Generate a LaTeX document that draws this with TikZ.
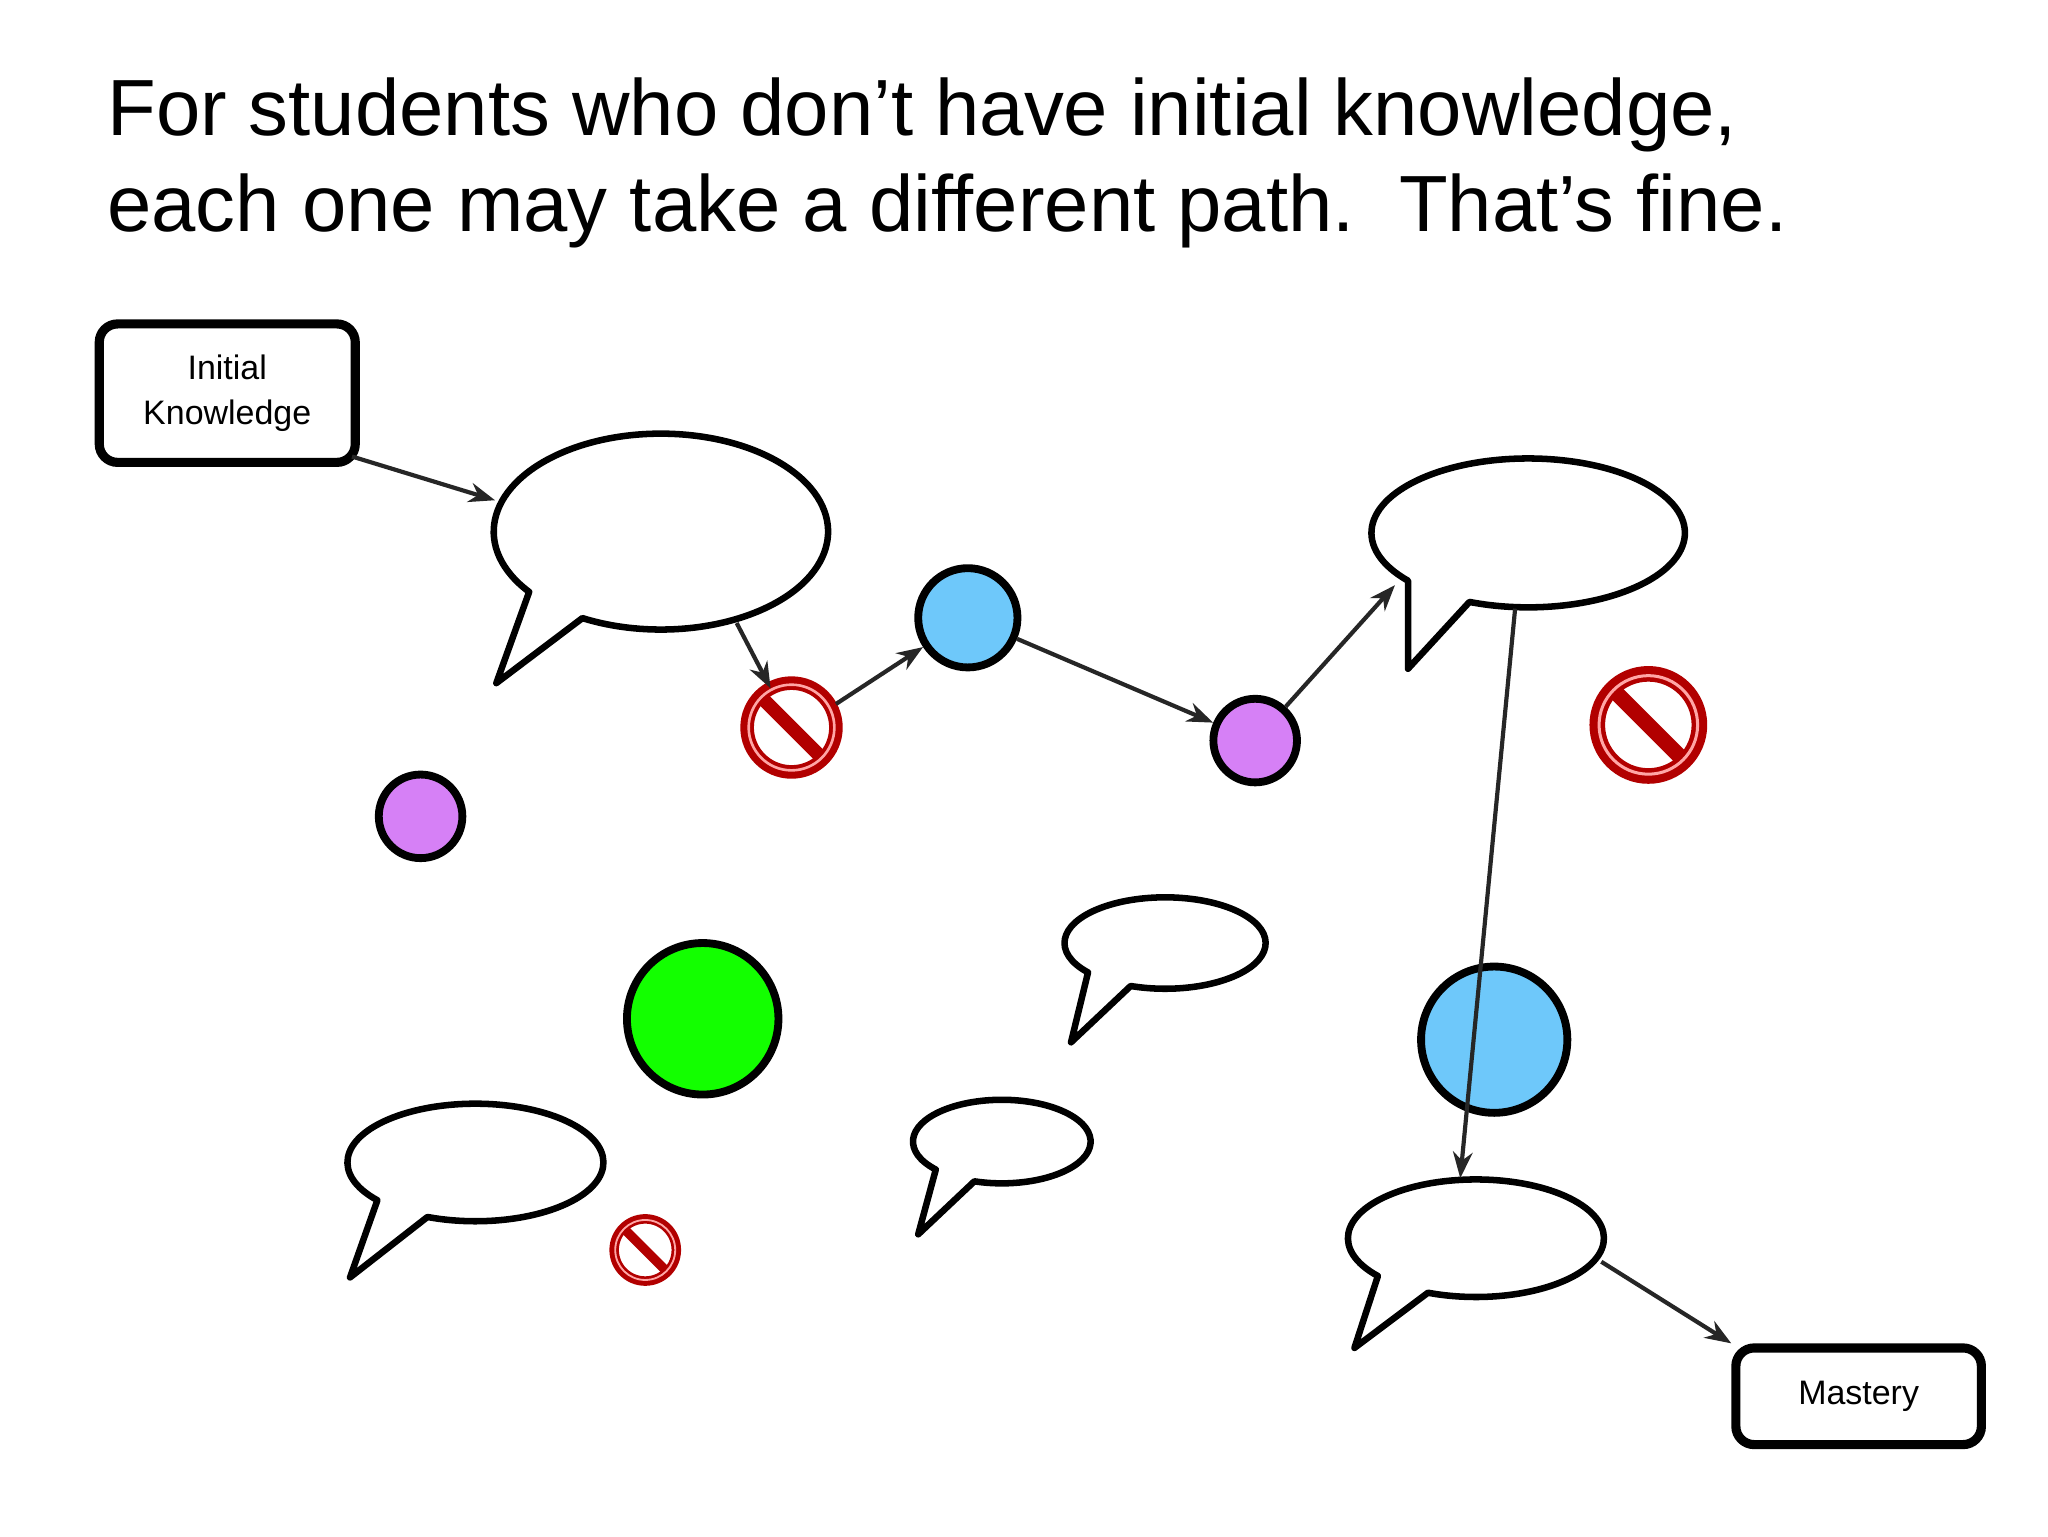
\documentclass[tikz,border=0pt]{standalone}
\usepackage{fontspec}
\setmainfont{Liberation Sans}
\usetikzlibrary{arrows.meta,calc}
\definecolor{lilac}{RGB}{214,128,246}
\definecolor{skyb}{RGB}{110,200,250}
\tikzset{
  bub/.style={draw=black,line width=5pt,fill=white,line join=round},
  dot/.style={draw=black,line width=6pt},
  arr/.style={draw=black!85,line width=3.2pt,-{Stealth[length=20pt,width=15pt]}},
  kbox/.style={draw=black,line width=7pt,rounded corners=14pt,fill=white,align=center,font=\fontsize{26}{35}\selectfont},
}
\newcommand{\bubblepath}[9]{% name cx cy rx ry tipx tipy a1 a2
  \draw[bub] ($(#2,#3)+(#9:#4 and #5)$) arc[start angle=#9,end angle=#8+360,x radius=#4,y radius=#5] -- (#6,#7) -- cycle;
  \coordinate (#1) at (#2,#3);
}
\newcommand{\nosign}[4]{% name cx cy r
  \fill[white] (#2,#3) circle (#4);
  \draw[red!70!black,line width=#4*0.26pt,fill=none] (#2,#3) circle (#4*0.85);
  \draw[red!70!black,line width=#4*0.26pt] ($(#2,#3)+(225:#4*0.85)$) -- ($(#2,#3)+(45:#4*0.85)$);
  \draw[red!35,line width=#4*0.05pt] (#2,#3) circle (#4*0.82);
  \coordinate (#1) at (#2,#3);
}
\begin{document}
\begin{tikzpicture}[x=1pt,y=-1pt]
\useasboundingbox (0,0) rectangle (1568,1176);
\fill[white] (0,0) rectangle (1568,1176);
\node[anchor=base west,inner sep=0,font=\fontsize{61}{72}\selectfont] (t1) at (82,104) {For students who don’t have initial knowledge,};
\node[anchor=base west,inner sep=0,font=\fontsize{61}{72}\selectfont] (t2) at (82,177) {each one may take a different path.\ \ That’s fine.};

\node[kbox,minimum width=196pt,minimum height=106pt] (ik) at (174,301) {Initial\\Knowledge};
\node[kbox,minimum width=188pt,minimum height=74pt] (ma) at (1423,1069) {Mastery};

\bubblepath{b1}{506}{407}{128}{75}{380}{523}{118}{142}
\bubblepath{b2}{1170}{408}{120}{57}{1078}{512}{112}{140}
\bubblepath{b3}{892}{722}{77}{35}{820}{798}{110}{140}
\bubblepath{b4}{364}{890}{98}{45}{268}{978}{112}{140}
\bubblepath{b5}{767}{874}{68}{32}{703}{945}{108}{138}
\bubblepath{b6}{1130}{948}{98}{45}{1037}{1032}{112}{140}

\node[dot,circle,fill=skyb,minimum size=76pt] (c1) at (741,473) {};
\node[dot,circle,fill=lilac,minimum size=64pt] (p1) at (961,567) {};
\node[dot,circle,fill=lilac,minimum size=64pt] (p2) at (322,625) {};
\node[dot,circle,fill=green!90!lime,minimum size=116pt] (g1) at (538,780) {};

\nosign{n1}{606}{557}{40}
\nosign{n2}{1262}{555}{46}
\nosign{n3}{494}{957}{28}

\draw[arr] (ik.south east) ++(-6,-8) coordinate (ik1) -- ($(b1)+(-127,-24)$);
\draw[arr] ($(b1)+(58,70)$) -- ($(n1)+(-16,-30)$);
\draw[arr] ($(n1)+(34,-18)$) -- (c1);
\draw[arr] (c1) -- (p1);
\draw[arr] (p1) -- ($(b2)+(-102,40)$);
\node[dot,circle,fill=skyb,minimum size=112pt] (c2) at (1144,796) {};
\draw[arr] ($(b2)+(-10,58)$) -- ($(b6)+(-12,-46)$);
\draw[arr] ($(b6)+(96,18)$) -- (ma.north west);
\end{tikzpicture}
\end{document}
